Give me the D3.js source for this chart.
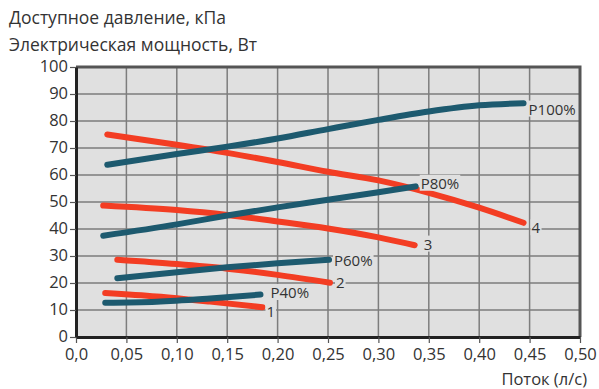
<!DOCTYPE html>
<html>
<head>
<meta charset="utf-8">
<script src="https://cdn.jsdelivr.net/npm/d3@7"></script>
<style>
  html, body { margin: 0; padding: 0; background: #ffffff; }
  svg { display: block; font-family: "Open Sans", "Noto Sans", sans-serif; }
</style>
</head>
<body>
<svg id="chart" width="599" height="389"></svg>
<script>
// Pump curves: available pressure (red, 1..4) and electric power (blue, P40..P100)
const xTicks = [0, 0.05, 0.10, 0.15, 0.20, 0.25, 0.30, 0.35, 0.40, 0.45, 0.50];
const xTickLabels = ["0,0", "0,05", "0,10", "0,15", "0,20", "0,25", "0,30", "0,35", "0,40", "0,45", "0,50"];
const yTicks = [0, 10, 20, 30, 40, 50, 60, 70, 80, 90, 100];

const titleLines = ["Доступное давление, кПа", "Электрическая мощность, Вт"];
const xTitle = "Поток (л/с)";

// Pressure curves (kPa)
const pressure1 = [[0.029, 16.3], [0.08, 15.0], [0.133, 13.1], [0.185, 11.0]];
const pressure2 = [[0.041, 28.6], [0.10, 27.0], [0.15, 25.3], [0.20, 23.0], [0.252, 20.1]];
const pressure3 = [[0.027, 48.7], [0.10, 47.0], [0.15, 45.2], [0.20, 42.8], [0.25, 40.2], [0.30, 36.9], [0.336, 34.0]];
const pressure4 = [[0.031, 75.0], [0.10, 71.2], [0.15, 68.2], [0.20, 64.8], [0.25, 61.2], [0.30, 58.0], [0.35, 53.4], [0.40, 47.9], [0.444, 42.3]];

// Power curves (W)
const power40 = [[0.029, 12.7], [0.08, 13.1], [0.133, 14.3], [0.183, 15.7]];
const power60 = [[0.041, 21.8], [0.10, 24.0], [0.15, 25.8], [0.20, 27.3], [0.251, 28.6]];
const power80 = [[0.027, 37.5], [0.10, 41.7], [0.15, 45.0], [0.20, 48.0], [0.25, 50.8], [0.30, 53.6], [0.337, 55.8]];
const power100 = [[0.031, 63.8], [0.10, 67.8], [0.15, 70.5], [0.20, 73.5], [0.25, 77.0], [0.30, 80.4], [0.35, 83.5], [0.40, 85.8], [0.444, 86.6]];

const curveNames = ["1", "2", "3", "4", "P40%", "P60%", "P80%", "P100%"];
const curveData = [pressure1, pressure2, pressure3, pressure4, power40, power60, power80, power100];
const curveKinds = ["pressure", "pressure", "pressure", "pressure", "power", "power", "power", "power"];

const colors = { pressure: "#f33d23", power: "#1d5a6f" };
const textColor = "#333333";

const svg = d3.select("#chart");
const plotLeft = 76, plotRight = 580, plotTop = 67, plotBottom = 337;

const x = d3.scaleLinear().domain([0, 0.5]).range([plotLeft, plotRight]);
const y = d3.scaleLinear().domain([0, 100]).range([plotBottom, plotTop]);

// Plot background
svg.append("rect")
  .attr("x", plotLeft).attr("y", plotTop)
  .attr("width", plotRight - plotLeft).attr("height", plotBottom - plotTop)
  .attr("fill", "#e0e0e0");

// Grid
const grid = svg.append("g").attr("stroke", "#7d7d7d").attr("stroke-width", 1.5);
grid.selectAll("line.v").data(xTicks.slice(1, -1)).join("line")
  .attr("class", "v")
  .attr("x1", d => x(d)).attr("x2", d => x(d))
  .attr("y1", plotTop).attr("y2", plotBottom);
grid.selectAll("line.h").data(yTicks.slice(1, -1)).join("line")
  .attr("class", "h")
  .attr("x1", plotLeft).attr("x2", plotRight)
  .attr("y1", d => y(d)).attr("y2", d => y(d));

// Top and right frame
svg.append("path")
  .attr("d", `M${plotLeft},${plotTop}H${plotRight}V${plotBottom}`)
  .attr("fill", "none").attr("stroke", "#555555").attr("stroke-width", 3);

// Axes
const xAxis = d3.axisBottom(x).tickValues(xTicks)
  .tickFormat((d, i) => xTickLabels[i]).tickSize(6).tickSizeOuter(0).tickPadding(5);
const yAxis = d3.axisLeft(y).tickValues(yTicks).tickSize(6).tickSizeOuter(0).tickPadding(2);

const gx = svg.append("g").attr("transform", `translate(0,${plotBottom})`).call(xAxis);
const gy = svg.append("g").attr("transform", `translate(${plotLeft},0)`).call(yAxis);

[gx, gy].forEach(g => {
  g.select(".domain").attr("stroke", "#222222").attr("stroke-width", 3);
  g.selectAll(".tick line").attr("stroke", "#555555").attr("stroke-width", 1.2);
  g.selectAll(".tick text")
    .attr("fill", textColor)
    .style("font-size", "16.5px")
    .style("font-family", "'Open Sans', 'Noto Sans', sans-serif");
});
gy.selectAll(".tick text").attr("dy", "0.3em");

// Curves
const line = d3.line()
  .x(d => x(d[0])).y(d => y(d[1]))
  .curve(d3.curveMonotoneX);

const curves = svg.append("g");
curveData.forEach((data, i) => {
  curves.append("path")
    .datum(data)
    .attr("d", line)
    .attr("fill", "none")
    .attr("stroke", colors[curveKinds[i]])
    .attr("stroke-width", 6)
    .attr("stroke-linecap", "round")
    .attr("stroke-linejoin", "round");
});

// End labels with a plot-coloured backdrop
const labelOffsets = {
  "1": [4, 4], "2": [6, 0], "3": [9, -1], "4": [8, 5],
  "P40%": [10, -2], "P60%": [5, 1], "P80%": [5, -3], "P100%": [5, 6]
};
const labels = svg.append("g");
curveData.forEach((data, i) => {
  const name = curveNames[i];
  const end = data[data.length - 1];
  const [dx, dy] = labelOffsets[name];
  const lx = x(end[0]) + dx, ly = y(end[1]) + dy;
  const g = labels.append("g");
  const t = g.append("text")
    .attr("x", lx).attr("y", ly)
    .attr("dy", "0.36em")
    .attr("fill", textColor)
    .style("font-size", "15px")
    .text(name);
  const bb = t.node().getBBox();
  g.insert("rect", "text")
    .attr("x", bb.x - 1).attr("y", bb.y + 2)
    .attr("width", bb.width + 2).attr("height", bb.height - 4)
    .attr("fill", "#e0e0e0");
});

// Titles
svg.selectAll("text.title").data(titleLines).join("text")
  .attr("class", "title")
  .attr("x", 9)
  .attr("y", (d, i) => 24 + i * 27)
  .attr("fill", textColor)
  .style("font-size", "17.5px")
  .text(d => d);

svg.append("text")
  .attr("x", 587).attr("y", 385)
  .attr("text-anchor", "end")
  .attr("fill", textColor)
  .style("font-size", "16.5px")
  .text(xTitle);
</script>
</body>
</html>
